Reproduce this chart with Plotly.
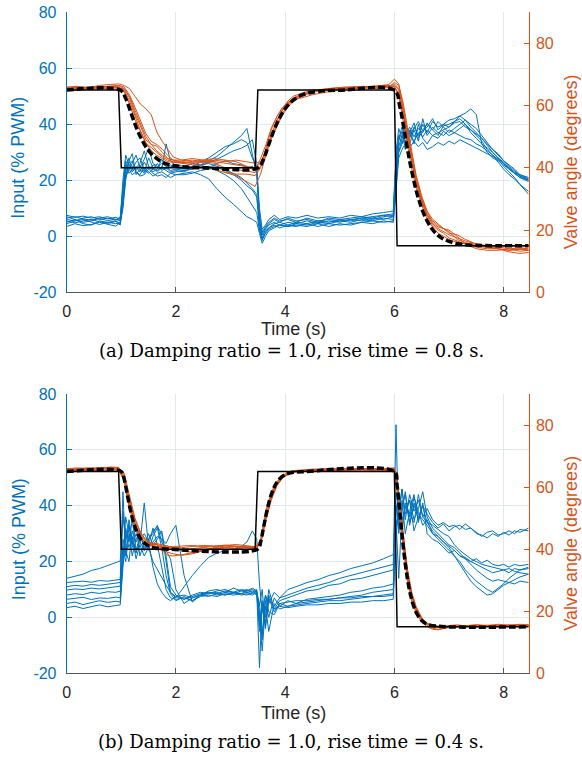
import plotly.graph_objects as go

# ---------------- time grids ----------------
t_blue = [0, 0.15, 0.3, 0.45, 0.6, 0.75, 0.9, 0.98,
          1.03, 1.08, 1.14, 1.2, 1.27, 1.34, 1.42, 1.5, 1.58, 1.66, 1.74, 1.82, 1.9, 2.0,
          2.15, 2.3, 2.45, 2.6, 2.75, 2.9, 3.05, 3.2, 3.3, 3.4, 3.48,
          3.53, 3.58, 3.64, 3.7, 3.8, 3.9, 4.05, 4.2, 4.4, 4.6, 4.8, 5.0, 5.2, 5.4, 5.6, 5.8, 5.98,
          6.03, 6.08, 6.14, 6.2, 6.28, 6.36, 6.44, 6.52, 6.6, 6.7, 6.8, 6.9, 7.0, 7.1, 7.2, 7.3, 7.4, 7.5,
          7.6, 7.7, 7.8, 7.9, 8.0, 8.1, 8.2, 8.3, 8.46]

t_orange = [0, 0.2, 0.4, 0.6, 0.8, 0.95,
            1.05, 1.15, 1.25, 1.35, 1.45, 1.55, 1.65, 1.75, 1.85, 1.95,
            2.1, 2.3, 2.5, 2.7, 2.9, 3.1, 3.3, 3.45,
            3.55, 3.65, 3.75, 3.85, 3.95, 4.05, 4.15,
            4.3, 4.5, 4.8, 5.1, 5.4, 5.7, 5.9, 6.0,
            6.08, 6.16, 6.24, 6.32, 6.4, 6.5, 6.6, 6.7, 6.8, 6.9, 7.0,
            7.15, 7.3, 7.5, 7.7, 7.9, 8.1, 8.3, 8.46]

# ---------------- reference step (degrees) ----------------
t_step = [0, 0.95, 1.0, 3.45, 3.5, 6.0, 6.05, 8.46]
step_deg = [65, 65, 40, 40, 65, 65, 15, 15]

# ---------------- model responses (degrees) ----------------
t_model_a = [0, 0.98, 1.08, 1.18, 1.28, 1.38, 1.48, 1.58, 1.68, 1.78, 1.88, 1.98, 2.18, 2.48,
             3.5, 3.6, 3.7, 3.8, 3.9, 4.0, 4.1, 4.2, 4.3, 4.4, 4.5, 4.7, 5.0,
             6.0, 6.1, 6.2, 6.3, 6.4, 6.5, 6.6, 6.7, 6.8, 6.9, 7.0, 7.2, 7.5, 8.46]
model_a = [65, 65, 62.3, 57.5, 52.7, 48.9, 46.0, 44.0, 42.6, 41.6, 41.0, 40.7, 40.25, 40.05,
           40, 42.6, 47.5, 52.3, 56.1, 59.0, 61.0, 62.4, 63.35, 63.95, 64.3, 64.75, 64.95,
           65, 59.7, 50.0, 40.45, 32.75, 27.0, 22.95, 20.15, 18.3, 17.1, 16.35, 15.5, 15.1, 15.0]

t_model_b = [0, 1.0, 1.05, 1.1, 1.15, 1.2, 1.25, 1.3, 1.35, 1.4, 1.5, 1.6, 1.8,
             3.5, 3.55, 3.6, 3.65, 3.7, 3.75, 3.8, 3.85, 3.9, 4.0, 4.1, 4.3,
             6.0, 6.05, 6.1, 6.15, 6.2, 6.25, 6.3, 6.35, 6.4, 6.5, 6.6, 6.8, 8.46]
model_b = [65, 65, 62.75, 58.4, 53.95, 50.15, 47.2, 45.0, 43.4, 42.3, 41.0, 40.4, 40.08,
           40, 42.25, 46.6, 51.05, 54.85, 57.8, 60.0, 61.6, 62.7, 64.0, 64.6, 64.92,
           65, 60.5, 51.8, 42.9, 35.3, 29.35, 24.95, 21.8, 19.6, 17.0, 15.85, 15.15, 15.0]

# ---------------- panel (a) input, % PWM ----------------
pwm_a1 = [6.5, 7.0, 6.2, 5.8, 6.4, 5.6, 6.1, 5.5,
          14.0, 24.5, 28.0, 23.5, 25.0, 23.0, 26.5, 24.0, 25.5, 24.5, 26.0, 25.0, 24.8, 25.5,
          25.0, 26.0, 25.5, 27.0, 28.5, 31.0, 33.5, 36.0, 38.5, 30.0, 22.0,
          8.0, 1.5, 3.5, 5.0, 6.5, 5.5, 6.0, 5.0, 6.5, 5.5, 6.0, 5.5, 6.0, 6.5, 7.0, 7.5, 8.0,
          26.0, 36.0, 33.0, 38.0, 35.0, 39.0, 36.0, 40.0, 37.0, 41.0, 39.0, 40.0, 41.5, 42.0, 43.0, 44.0, 45.5, 43.5,
          33.0, 30.0, 28.0, 27.0, 25.5, 24.0, 22.5, 22.0, 21.0]
pwm_a2 = [4.5, 5.5, 6.0, 5.0, 4.2, 5.0, 4.5, 4.8,
          10.0, 20.0, 27.0, 29.5, 22.0, 24.0, 22.5, 25.0, 23.0, 24.0, 27.5, 25.0, 23.5, 24.0,
          23.5, 24.0, 24.5, 25.0, 23.5, 22.0, 20.0, 17.0, 14.0, 11.0, 8.5,
          2.0, -1.0, 1.0, 2.5, 3.5, 4.0, 3.5, 4.5, 4.0, 5.0, 4.5, 5.5, 5.0, 6.0, 5.5, 6.5, 6.0,
          20.0, 34.0, 37.5, 31.0, 38.0, 33.0, 40.0, 35.0, 33.0, 36.0, 37.0, 38.0, 39.0, 40.5, 41.0, 39.0, 38.0, 36.0,
          34.0, 31.0, 29.0, 26.5, 24.0, 22.0, 20.5, 18.5, 16.0]
pwm_a3 = [7.5, 6.8, 7.2, 6.5, 7.0, 6.2, 6.8, 6.0,
          18.0, 27.0, 24.0, 26.0, 29.0, 24.5, 27.5, 31.5, 26.0, 25.0, 24.0, 33.0, 27.0, 25.0,
          24.5, 25.0, 26.5, 28.0, 30.0, 32.0, 33.0, 34.5, 33.5, 28.0, 24.5,
          10.0, 2.5, 4.0, 6.0, 7.5, 6.0, 7.0, 6.5, 7.5, 6.5, 7.0, 6.5, 7.5, 7.0, 8.0, 8.5, 9.0,
          30.0, 38.5, 35.0, 40.0, 36.5, 34.0, 37.0, 35.5, 38.0, 36.0, 35.0, 37.5, 36.0, 37.0, 38.5, 40.0, 38.0, 36.5,
          35.0, 33.0, 31.0, 29.0, 27.0, 25.5, 24.0, 22.0, 20.5]
pwm_a4 = [5.5, 4.8, 5.5, 6.0, 5.2, 4.6, 5.3, 4.0,
          12.0, 22.0, 25.0, 27.0, 23.0, 22.0, 24.5, 23.0, 21.5, 22.5, 23.0, 22.0, 21.0, 22.0,
          22.5, 23.0, 22.0, 20.5, 17.0, 14.0, 11.5, 9.0, 7.0, 6.0, 5.0,
          1.0, -2.5, 0.0, 2.0, 3.0, 4.0, 3.5, 4.0, 3.5, 4.5, 3.5, 4.5, 4.0, 5.0, 4.5, 5.5, 5.0,
          18.0, 30.0, 35.0, 41.0, 33.0, 38.0, 34.0, 42.0, 36.0, 39.0, 37.0, 36.0, 38.0, 37.0, 36.0, 35.0, 34.5, 33.0,
          32.0, 30.5, 29.0, 27.5, 25.0, 23.0, 21.0, 18.5, 15.0]
pwm_a5 = [3.5, 4.5, 3.8, 4.2, 5.0, 4.3, 3.6, 5.0,
          16.0, 25.5, 22.5, 24.0, 26.5, 28.0, 24.0, 22.5, 24.0, 26.0, 23.5, 24.5, 23.0, 23.5,
          23.0, 24.5, 25.0, 24.5, 26.0, 27.0, 26.0, 25.5, 24.5, 25.0, 23.0,
          6.0, 0.5, 2.0, 3.0, 4.5, 5.0, 4.0, 5.0, 4.5, 5.5, 5.0, 6.0, 5.5, 6.5, 6.0, 7.0, 7.5,
          24.0, 32.0, 36.0, 33.5, 37.0, 40.5, 35.0, 38.0, 40.0, 38.0, 41.0, 39.0, 37.0, 38.5, 40.0, 41.5, 40.0, 38.5,
          36.0, 33.5, 31.0, 29.5, 27.0, 25.0, 23.5, 21.5, 20.0]
pwm_a6 = [6.0, 5.5, 6.5, 7.0, 6.0, 6.5, 5.8, 6.3,
          20.0, 29.0, 25.5, 23.0, 24.5, 26.0, 30.5, 25.0, 24.0, 23.5, 25.0, 24.0, 25.5, 24.5,
          24.0, 24.5, 25.5, 26.0, 25.0, 24.0, 22.5, 21.0, 19.0, 17.0, 15.0,
          4.0, -0.5, 2.5, 4.0, 5.0, 4.0, 5.0, 4.5, 5.5, 4.5, 5.5, 5.0, 6.0, 5.5, 6.5, 6.0, 7.0,
          22.0, 30.0, 33.0, 36.0, 39.0, 35.5, 38.5, 37.0, 40.5, 38.0, 36.0, 39.5, 40.0, 41.0, 42.0, 40.0, 37.0, 35.0,
          33.0, 31.5, 30.0, 28.0, 26.0, 24.5, 23.0, 21.5, 20.5]
pwm_a7 = [7.0, 6.0, 5.0, 5.5, 6.5, 7.0, 6.0, 6.8,
          15.0, 23.0, 26.5, 25.0, 23.5, 25.5, 23.0, 28.0, 24.5, 23.0, 24.5, 23.5, 22.5, 23.0,
          23.5, 24.0, 25.0, 26.5, 27.5, 29.0, 30.5, 31.5, 32.5, 34.5, 26.0,
          5.0, 1.0, 3.0, 4.5, 6.0, 5.0, 6.5, 5.5, 6.0, 5.0, 6.5, 6.0, 6.5, 7.0, 6.5, 7.5, 7.0,
          28.0, 35.0, 39.0, 34.0, 36.0, 38.5, 41.0, 37.5, 39.0, 42.0, 38.0, 40.0, 39.0, 41.0, 43.0, 41.5, 39.0, 37.0,
          35.0, 32.5, 30.0, 28.0, 26.5, 24.5, 22.5, 21.0, 19.5]
pwm_a8 = [5.0, 6.0, 4.5, 4.0, 5.5, 5.0, 5.5, 4.5,
          11.0, 21.0, 24.0, 22.0, 23.0, 21.5, 22.0, 24.0, 22.5, 21.5, 22.0, 21.0, 22.5, 22.0,
          22.0, 22.5, 23.5, 24.0, 24.5, 23.5, 22.0, 20.0, 18.0, 16.5, 14.0,
          3.0, -1.5, 1.5, 3.0, 4.0, 3.0, 4.0, 3.5, 4.5, 3.5, 4.5, 4.0, 4.5, 5.0, 5.5, 5.0, 5.5,
          16.0, 28.0, 31.0, 33.0, 31.5, 34.0, 32.0, 33.5, 31.0, 32.0, 33.5, 32.5, 34.0, 33.0, 34.5, 33.5, 32.5, 31.5,
          30.5, 29.5, 28.5, 27.5, 26.0, 24.0, 22.5, 21.0, 20.0]

# ---------------- panel (b) input, % PWM ----------------
pwm_b1 = [14.0, 14.8, 15.5, 16.8, 17.5, 18.6, 19.8, 20.2,
          36.0, 28.0, 33.0, 25.0, 30.0, 27.0, 24.0, 28.0, 31.0, 32.5, 30.0, 20.0, 9.0, 7.0,
          11.0, 15.0, 18.5, 21.5, 23.0, 24.0, 24.5, 25.5, 27.0, 31.0, 28.0,
          12.0, 2.0, 8.0, 5.0, 9.0, 7.0, 10.0, 11.0, 12.5, 13.5, 15.0, 16.0, 17.5, 18.5, 19.5, 21.0, 22.5,
          45.0, 38.0, 46.0, 35.0, 44.0, 38.0, 42.0, 36.0, 39.0, 35.0, 33.0, 34.0, 32.5, 33.0, 31.5, 33.5, 32.0, 30.0,
          29.5, 28.5, 30.0, 29.0, 30.5, 29.5, 31.0, 30.5, 32.0]
pwm_b2 = [12.5, 12.8, 13.0, 12.6, 13.2, 13.0, 13.4, 13.6,
          45.0, 22.0, 35.0, 28.0, 24.0, 26.0, 22.0, 25.0, 27.0, 29.0, 28.0, 26.5, 30.0, 33.0,
          15.0, 5.5, 8.0, 9.5, 10.0, 9.0, 10.5, 9.5, 10.0, 9.0, 10.0,
          -5.0, 3.0, -2.0, 6.0, 4.0, 7.0, 8.0, 9.0, 10.5, 11.5, 12.5, 14.0, 15.0, 16.0, 17.0, 18.0, 19.0,
          69.0, 30.0, 40.0, 44.0, 33.0, 41.0, 35.0, 40.0, 37.0, 34.0, 32.0, 33.5, 31.0, 32.5, 33.0, 31.5, 32.0, 30.5,
          29.0, 30.5, 31.0, 29.5, 30.0, 31.0, 30.0, 31.5, 31.0]
pwm_b3 = [11.0, 11.5, 11.2, 11.8, 11.5, 12.0, 12.3, 12.5,
          38.0, 30.0, 25.0, 29.0, 21.0, 26.0, 41.0, 25.0, 20.0, 17.0, 14.0, 11.5, 9.0, 7.5,
          6.5, 8.0, 9.0, 8.5, 9.5, 10.0, 9.0, 10.0, 9.5, 10.5, 9.5,
          -18.0, 5.0, -3.0, 8.0, 3.0, 6.0, 7.0, 8.0, 9.5, 10.0, 11.5, 12.0, 13.5, 14.0, 15.0, 16.0, 17.0,
          40.0, 32.0, 42.0, 30.0, 38.0, 44.0, 34.0, 41.0, 30.0, 28.0, 27.0, 25.0, 23.0, 24.0, 22.0, 21.5, 20.0, 21.0,
          19.5, 20.5, 19.0, 18.5, 19.0, 18.0, 19.0, 18.5, 19.0]
pwm_b4 = [9.8, 10.2, 10.0, 10.5, 10.2, 10.6, 11.0, 11.2,
          25.0, 20.0, 30.0, 26.0, 33.0, 22.0, 27.0, 24.0, 29.0, 32.0, 25.0, 15.0, 8.5, 6.0,
          7.5, 6.0, 8.0, 9.0, 8.5, 9.5, 9.0, 8.5, 9.5, 10.0, 9.0,
          2.0, -8.0, 6.0, 0.0, 7.0, 4.0, 6.0, 5.0, 6.5, 7.0, 7.5, 8.0, 9.0, 9.5, 10.5, 11.0, 12.0,
          35.0, 14.0, 38.0, 45.0, 34.0, 40.0, 37.0, 35.0, 33.0, 30.0, 28.0, 26.0, 24.0, 22.0, 20.0, 17.0, 15.0, 13.0,
          11.5, 10.0, 9.0, 10.5, 12.0, 14.0, 15.5, 17.0, 18.0]
pwm_b5 = [8.0, 8.5, 8.2, 9.0, 8.6, 9.2, 9.0, 9.4,
          20.0, 32.0, 27.0, 35.0, 24.0, 29.0, 26.0, 30.0, 26.0, 28.0, 31.0, 22.0, 11.0, 8.0,
          6.5, 7.5, 8.5, 9.0, 8.0, 9.0, 8.5, 9.5, 9.0, 9.5, 8.5,
          4.0, 10.0, -4.0, 7.0, 2.0, 5.0, 4.0, 5.0, 5.5, 6.0, 6.5, 7.0, 7.5, 8.0, 9.0, 9.5, 10.0,
          30.0, 43.0, 33.0, 40.0, 36.0, 43.0, 38.0, 33.0, 35.0, 30.0, 29.0, 27.0, 25.5, 24.0, 22.0, 21.0, 20.0, 19.0,
          18.0, 17.0, 16.0, 16.5, 17.0, 16.0, 17.5, 17.0, 17.5]
pwm_b6 = [6.5, 6.8, 7.2, 6.4, 7.0, 6.8, 7.3, 7.0,
          28.0, 24.0, 20.0, 31.0, 27.0, 30.0, 25.0, 28.0, 30.0, 33.0, 27.0, 24.0, 21.0, 10.0,
          5.0, 7.0, 8.0, 8.5, 9.0, 8.0, 9.0, 8.5, 9.0, 8.5, 9.5,
          0.0, -12.0, 4.0, -5.0, 5.0, 3.0, 4.0, 4.5, 5.0, 5.5, 6.0, 6.0, 6.5, 7.0, 7.5, 7.5, 8.0,
          38.0, 45.0, 30.0, 41.0, 37.0, 34.0, 44.0, 36.0, 34.0, 31.0, 29.0, 27.0, 25.0, 22.0, 19.0, 16.0, 13.0, 11.0,
          9.5, 8.0, 8.5, 10.0, 11.5, 12.5, 13.5, 14.5, 15.5]
pwm_b7 = [5.0, 5.5, 4.6, 5.2, 6.0, 5.4, 5.8, 5.5,
          22.0, 36.0, 30.0, 22.0, 28.0, 31.0, 24.0, 26.0, 32.0, 26.0, 18.0, 10.0, 7.0, 6.5,
          7.0, 6.0, 7.5, 8.0, 7.5, 8.5, 8.0, 8.5, 8.0, 9.0, 8.0,
          -3.0, 6.0, 0.0, 10.0, 3.0, 4.0, 3.5, 4.0, 4.5, 4.5, 5.0, 5.0, 5.5, 5.5, 6.0, 6.0, 6.5,
          33.0, 36.0, 46.0, 37.0, 42.0, 35.0, 39.0, 45.0, 36.0, 32.0, 30.0, 28.0, 26.0, 25.0, 23.0, 21.0, 19.0, 17.0,
          15.5, 14.0, 13.0, 13.5, 13.0, 12.5, 12.0, 13.0, 12.5]
pwm_b8 = [3.5, 4.0, 3.2, 3.8, 4.5, 3.8, 4.2, 4.5,
          18.0, 28.0, 33.0, 27.0, 23.0, 28.0, 30.0, 27.0, 18.0, 12.0, 9.0, 7.0, 6.0, 7.5,
          8.0, 7.0, 8.0, 7.5, 8.5, 8.0, 9.0, 8.0, 8.5, 8.0, 9.0,
          5.0, -6.0, 8.0, 2.0, 1.0, 5.0, 5.5, 6.0, 6.0, 6.5, 6.5, 7.0, 7.0, 7.5, 7.5, 8.0, 8.5,
          28.0, 40.0, 35.0, 39.0, 42.0, 31.0, 36.0, 40.0, 34.0, 33.0, 31.5, 30.0, 29.0, 26.0, 24.0, 22.5, 21.0, 20.0,
          19.0, 18.5, 18.0, 17.5, 17.0, 17.5, 16.5, 16.0, 15.5]

# ---------------- panel (a) valve angle, degrees ----------------
ang_a1 = [65.5, 65.8, 65.6, 66.0, 66.2, 66.0,
          65.0, 61.5, 56.5, 52.0, 48.0, 46.5, 45.0, 43.5, 42.5, 42.0,
          41.8, 41.5, 41.8, 42.0, 41.5, 41.0, 40.5, 40.0,
          41.5, 46.0, 51.0, 55.0, 58.5, 60.5, 62.5,
          63.5, 64.8, 65.5, 65.8, 66.0, 66.2, 66.5, 66.0,
          64.0, 57.0, 49.0, 41.5, 35.0, 29.0, 24.5, 21.5, 20.0, 19.0, 17.5,
          16.5, 15.5, 14.5, 14.0, 14.0, 13.5, 13.8, 13.5]
ang_a2 = [66.0, 66.2, 65.8, 66.5, 66.8, 67.0,
          66.5, 65.5, 63.0, 60.5, 59.0, 57.0, 51.5, 48.5, 46.0, 43.5,
          42.5, 42.0, 42.5, 42.0, 38.5, 37.5, 35.5, 34.0,
          38.0, 44.0, 50.5, 55.5, 58.5, 61.0, 62.5,
          63.0, 64.5, 65.5, 66.0, 66.0, 66.3, 66.8, 68.5,
          67.0, 60.0, 51.0, 43.0, 36.0, 30.0, 25.0, 23.0, 21.5, 20.5, 19.5,
          17.0, 16.0, 15.0, 14.5, 14.0, 13.0, 12.5, 12.8]
ang_a3 = [65.0, 65.2, 65.5, 65.3, 65.8, 65.6,
          65.5, 62.5, 57.5, 53.5, 49.0, 47.5, 47.0, 45.0, 43.0, 42.5,
          42.0, 42.5, 42.0, 42.5, 42.0, 42.5, 42.0, 41.5,
          42.0, 45.0, 49.5, 53.5, 57.0, 59.5, 61.5,
          63.0, 64.5, 65.0, 65.5, 65.5, 65.8, 66.0, 66.5,
          65.0, 58.5, 50.0, 42.0, 35.5, 29.5, 25.0, 22.0, 20.5, 19.5, 18.5,
          17.5, 16.5, 15.5, 15.0, 14.5, 14.8, 14.5, 14.8]
ang_a4 = [65.8, 65.5, 66.0, 65.6, 66.3, 66.5,
          66.0, 63.5, 59.5, 55.5, 51.0, 48.5, 47.5, 46.0, 44.0, 42.5,
          41.5, 41.0, 40.5, 39.5, 38.5, 38.0, 38.0, 37.5,
          40.0, 46.5, 52.5, 56.5, 59.5, 61.0, 62.0,
          62.5, 63.5, 64.5, 65.5, 65.8, 65.5, 65.8, 67.5,
          66.5, 61.0, 53.0, 45.0, 37.5, 31.0, 26.0, 22.5, 21.0, 20.5, 20.0,
          18.0, 15.5, 14.0, 13.5, 13.5, 14.0, 13.2, 13.5]
ang_a5 = [65.2, 65.0, 65.4, 65.8, 65.5, 65.9,
          64.5, 60.5, 55.5, 51.5, 48.0, 45.5, 44.0, 43.0, 42.0, 41.8,
          41.5, 41.8, 42.0, 41.5, 40.0, 39.5, 39.0, 38.5,
          40.5, 44.5, 49.5, 54.0, 57.5, 60.0, 62.0,
          63.5, 64.5, 65.3, 65.6, 65.8, 66.0, 66.0, 66.2,
          63.0, 55.5, 47.0, 39.5, 33.5, 28.0, 23.5, 21.0, 19.0, 18.0, 17.0,
          16.0, 15.5, 15.0, 14.5, 14.5, 14.0, 14.2, 14.0]
ang_a6 = [65.6, 66.0, 65.7, 66.2, 66.0, 66.4,
          65.5, 63.0, 58.5, 54.5, 50.0, 47.5, 45.5, 44.0, 43.0, 42.5,
          42.5, 43.0, 42.5, 43.0, 42.5, 42.0, 40.5, 39.0,
          43.0, 47.5, 53.0, 56.5, 59.0, 61.5, 63.0,
          64.0, 65.0, 65.5, 65.8, 66.2, 66.0, 66.3, 67.0,
          65.5, 59.0, 51.5, 44.0, 37.0, 30.5, 26.0, 23.5, 22.0, 20.5, 19.0,
          18.5, 17.0, 15.5, 14.5, 14.0, 13.5, 14.0, 13.6]

# ---------------- panel (b) valve angle, degrees ----------------
ang_b1 = [65.5, 65.8, 65.6, 66.0, 66.2, 66.0,
          63.5, 55.0, 48.5, 44.0, 42.0, 41.0, 40.5, 40.2, 40.5, 40.8,
          41.0, 41.2, 40.8, 41.0, 40.6, 40.8, 40.5, 40.5,
          42.0, 51.0, 57.5, 61.0, 63.0, 64.5, 65.0,
          65.2, 65.5, 65.6, 65.5, 65.8, 65.6, 65.5, 65.8,
          56.0, 42.5, 31.5, 24.5, 20.5, 17.5, 16.0, 15.5, 15.2, 15.0, 15.3,
          15.2, 15.0, 15.4, 15.2, 15.5, 15.3, 15.6, 15.4]
ang_b2 = [66.0, 65.7, 66.2, 65.9, 66.5, 66.3,
          64.5, 57.0, 50.0, 45.5, 43.0, 42.0, 41.5, 40.0, 39.0, 38.5,
          38.0, 38.5, 39.5, 40.0, 40.5, 40.2, 40.5, 40.3,
          41.5, 50.0, 56.5, 60.5, 63.0, 64.0, 64.8,
          65.3, 65.6, 65.9, 66.0, 65.8, 66.0, 65.8, 66.0,
          57.5, 44.0, 33.0, 25.5, 21.0, 17.5, 15.5, 14.5, 14.2, 14.5, 14.8,
          15.0, 15.2, 15.0, 15.3, 15.1, 15.4, 15.2, 15.5]
ang_b3 = [65.2, 65.4, 65.1, 65.5, 65.3, 65.6,
          62.0, 53.0, 47.0, 43.5, 42.0, 41.5, 41.5, 41.0, 40.5, 40.0,
          39.5, 39.0, 39.8, 40.5, 41.0, 40.8, 40.5, 40.2,
          42.5, 52.5, 58.5, 61.8, 63.8, 64.5, 65.0,
          65.0, 65.3, 65.1, 65.4, 65.2, 65.5, 65.3, 65.5,
          55.0, 41.0, 30.0, 23.0, 19.5, 16.5, 15.0, 14.2, 14.0, 14.5, 14.8,
          14.9, 15.1, 14.9, 15.2, 15.0, 15.2, 15.0, 15.3]
ang_b4 = [65.7, 65.9, 66.1, 65.8, 66.3, 66.2,
          63.0, 54.5, 48.0, 44.5, 42.5, 41.5, 40.5, 39.5, 38.0, 37.8,
          38.2, 38.8, 39.5, 40.3, 40.6, 40.9, 40.7, 40.6,
          43.0, 52.0, 58.0, 61.5, 63.5, 64.8, 65.3,
          65.6, 65.8, 65.5, 65.9, 66.0, 65.7, 66.0, 66.2,
          58.0, 45.0, 33.5, 26.0, 21.5, 18.0, 16.0, 15.0, 14.8, 15.0, 15.4,
          15.6, 15.3, 15.7, 15.4, 15.8, 15.5, 15.8, 15.6]
ang_b5 = [65.3, 65.6, 65.4, 65.7, 65.5, 65.8,
          62.5, 54.0, 47.5, 43.5, 41.8, 41.2, 41.0, 40.8, 41.0, 40.6,
          40.5, 40.8, 41.2, 41.0, 41.3, 41.0, 40.8, 40.7,
          42.0, 50.5, 57.0, 61.0, 63.2, 64.2, 64.8,
          65.0, 65.2, 65.4, 65.3, 65.6, 65.4, 65.6, 65.5,
          55.5, 41.5, 30.5, 23.5, 19.8, 17.0, 15.8, 15.3, 15.0, 15.2, 15.0,
          15.3, 15.1, 15.4, 15.2, 15.0, 15.3, 15.1, 15.2]
ang_b6 = [65.9, 66.2, 66.0, 66.3, 66.1, 66.4,
          64.0, 56.0, 49.5, 45.0, 43.0, 42.0, 41.8, 41.5, 41.0, 40.2,
          39.8, 40.2, 40.6, 40.9, 41.2, 41.5, 41.0, 40.8,
          41.8, 49.5, 56.0, 60.5, 62.8, 64.2, 65.0,
          65.4, 65.7, 65.9, 65.6, 66.0, 65.8, 66.1, 66.0,
          57.0, 43.5, 32.0, 25.0, 20.8, 17.8, 16.2, 15.5, 15.0, 14.6, 14.9,
          15.1, 15.4, 15.2, 15.5, 15.3, 15.6, 15.4, 15.7]

x_ticks = [0, 2, 4, 6, 8]
x_labels = ["0", "2", "4", "6", "8"]
left_ticks = [-20, 0, 20, 40, 60, 80]
left_labels = ["-20", "0", "20", "40", "60", "80"]
right_ticks = [0, 20, 40, 60, 80]
right_labels = ["0", "20", "40", "60", "80"]

x_title = "Time (s)"
left_title = "Input (% PWM)"
right_title = "Valve angle (degrees)"
captions = ["(a) Damping ratio = 1.0, rise time = 0.8 s.",
            "(b) Damping ratio = 1.0, rise time = 0.4 s."]

BLUE = "#0072BD"
ORANGE = "#D95319"
DARK = "#262626"
GRID = "#e3e8ee"
W, H = 582, 769

panels = [
    dict(pwm=[pwm_a1, pwm_a2, pwm_a3, pwm_a4, pwm_a5, pwm_a6, pwm_a7, pwm_a8],
         ang=[ang_a1, ang_a2, ang_a3, ang_a4, ang_a5, ang_a6],
         tm=t_model_a, m=model_a, x="x", y="y", y2="y2", top=12.3, bot=292.3,
         xt=329.0, cap=350.0),
    dict(pwm=[pwm_b1, pwm_b2, pwm_b3, pwm_b4, pwm_b5, pwm_b6, pwm_b7, pwm_b8],
         ang=[ang_b1, ang_b2, ang_b3, ang_b4, ang_b5, ang_b6],
         tm=t_model_b, m=model_b, x="x2", y="y3", y2="y4", top=394.0, bot=673.3,
         xt=712.5, cap=741.5),
]

for p in panels:
    for s in p["pwm"]:
        assert len(s) == len(t_blue), len(s)
    for s in p["ang"]:
        assert len(s) == len(t_orange), len(s)
    assert len(p["tm"]) == len(p["m"])

fig = go.Figure()
for p in panels:
    for s in p["pwm"]:
        fig.add_trace(go.Scatter(x=t_blue, y=s, mode="lines", xaxis=p["x"], yaxis=p["y"],
                                 line=dict(color=BLUE, width=1), hoverinfo="skip", showlegend=False))
    for s in p["ang"]:
        fig.add_trace(go.Scatter(x=t_orange, y=s, mode="lines", xaxis=p["x"], yaxis=p["y2"],
                                 line=dict(color=ORANGE, width=1), hoverinfo="skip", showlegend=False))
    fig.add_trace(go.Scatter(x=t_step, y=step_deg, mode="lines", xaxis=p["x"], yaxis=p["y2"],
                             line=dict(color="black", width=1.5), hoverinfo="skip", showlegend=False))
    fig.add_trace(go.Scatter(x=p["tm"], y=p["m"], mode="lines", xaxis=p["x"], yaxis=p["y2"],
                             line=dict(color="black", width=3.5, dash="7px,3px", shape="spline"),
                             hoverinfo="skip", showlegend=False))

FONT = "Liberation Sans, Arial, sans-serif"
SERIF = "DejaVu Serif, serif"
XL, XR = 66.7, 528.7
xdom = [XL / W, XR / W]


def xax(anchor):
    return dict(domain=xdom, anchor=anchor, range=[0, 8.46], tickvals=x_ticks, ticktext=x_labels,
                showgrid=True, gridcolor=GRID, gridwidth=1, zeroline=False, automargin=False,
                showline=True, linecolor="#555555", linewidth=1, ticks="inside", ticklen=5,
                tickcolor="#555555", tickfont=dict(family=FONT, size=16, color=DARK),
                ticklabelstandoff=4)


def yleft(p):
    return dict(domain=[1 - p["bot"] / H, 1 - p["top"] / H], anchor=p["x"], range=[-20, 80],
                tickvals=left_ticks, ticktext=left_labels,
                showgrid=True, gridcolor=GRID, gridwidth=1, zeroline=False, automargin=False,
                showline=True, linecolor=BLUE, linewidth=1, ticks="inside", ticklen=5,
                tickcolor=BLUE, tickfont=dict(family=FONT, size=16, color=BLUE),
                ticklabelstandoff=6)


def yright(p, over):
    return dict(overlaying=over, anchor=p["x"], side="right", range=[0, 90],
                tickvals=right_ticks, ticktext=right_labels,
                showgrid=False, zeroline=False, automargin=False,
                showline=True, linecolor=ORANGE, linewidth=1, ticks="inside", ticklen=5,
                tickcolor=ORANGE, tickfont=dict(family=FONT, size=16, color=ORANGE),
                ticklabelstandoff=3)


annotations = []
for i, p in enumerate(panels):
    mid = (p["top"] + p["bot"]) / 2 + 6
    annotations += [
        dict(text=left_title, x=18.5 / W, y=1 - mid / H, textangle=-90,
             font=dict(family=FONT, size=18, color=BLUE)),
        dict(text=right_title, x=571 / W, y=1 - (mid + 4) / H, textangle=-90,
             font=dict(family=FONT, size=18, color=ORANGE)),
        dict(text=x_title, x=293 / W, y=1 - p["xt"] / H,
             font=dict(family=FONT, size=18, color=DARK)),
        dict(text=captions[i], x=291 / W, y=1 - p["cap"] / H,
             font=dict(family=SERIF, size=18, color="black")),
    ]
for a in annotations:
    a.update(xref="paper", yref="paper", xanchor="center", yanchor="middle", showarrow=False)

fig.update_layout(
    width=W, height=H, autosize=False,
    margin=dict(l=0, r=0, t=0, b=0),
    paper_bgcolor="white", plot_bgcolor="white",
    showlegend=False,
    xaxis=xax("y"), yaxis=yleft(panels[0]), yaxis2=yright(panels[0], "y"),
    xaxis2=xax("y3"), yaxis3=yleft(panels[1]), yaxis4=yright(panels[1], "y3"),
    annotations=annotations,
)

fig.write_html("out.html", config={"displayModeBar": False, "staticPlot": True},
               post_script="document.body.style.margin='0px';document.body.style.overflow='hidden';")
